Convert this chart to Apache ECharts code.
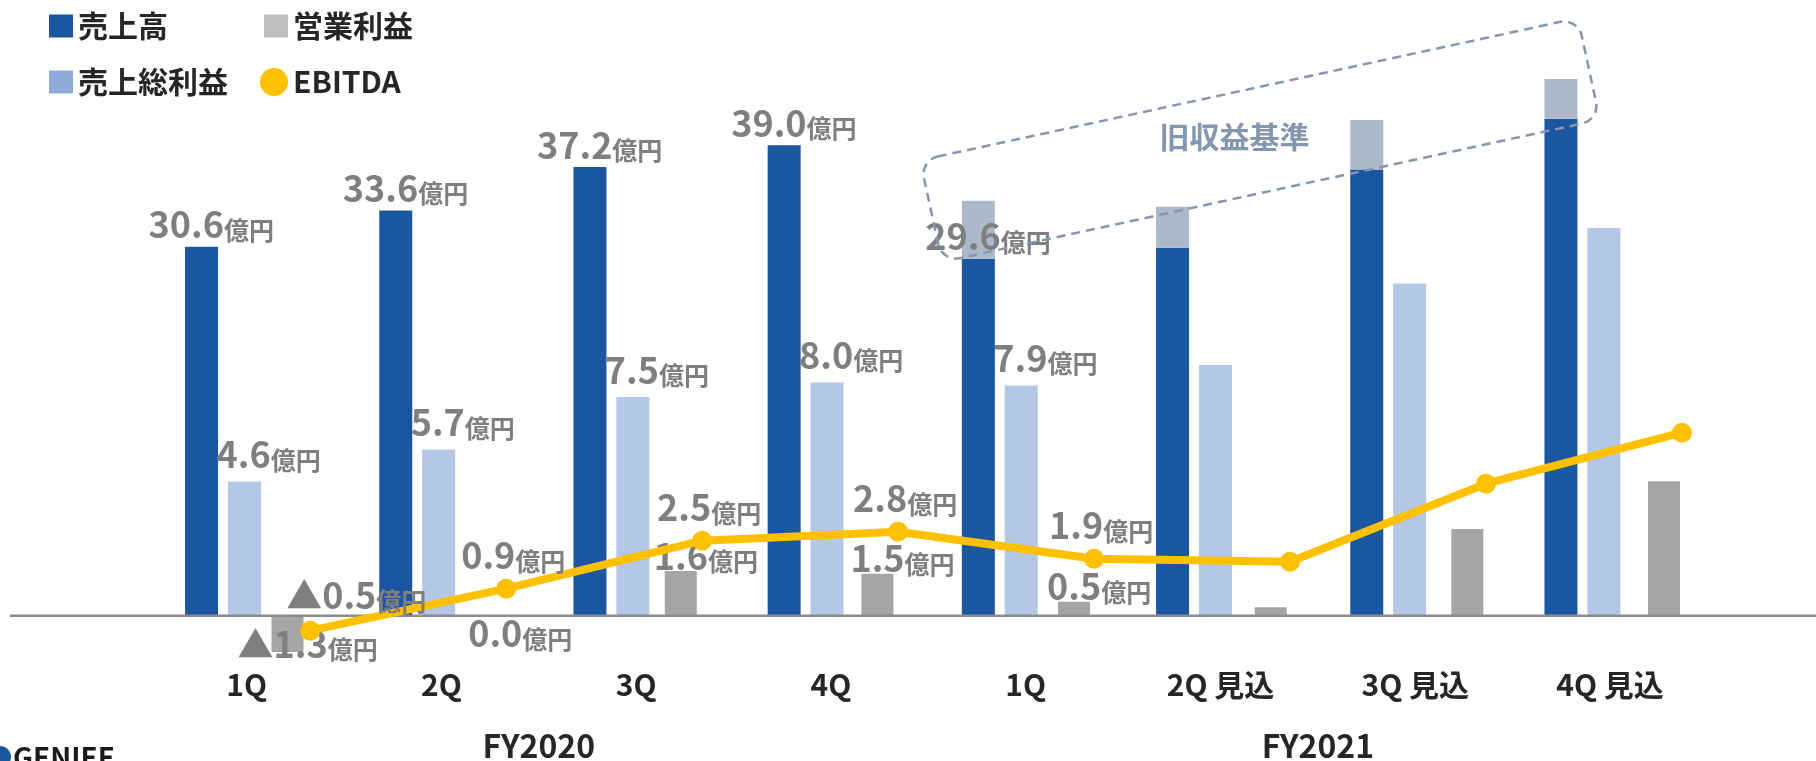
<!DOCTYPE html>
<html lang="ja">
<head>
<meta charset="utf-8">
<title>業績推移</title>
<script src="https://cdn.jsdelivr.net/npm/echarts@6/dist/echarts.min.js"></script>
<style>
  html, body { margin: 0; padding: 0; background: #ffffff; }
  #chart { width: 1816px; height: 761px; }
</style>
</head>
<body>
<div id="chart"></div>
<script>
// Quarterly results and forecasts (単位: 億円)
const quarters = ['1Q', '2Q', '3Q', '4Q', '1Q', '2Q 見込', '3Q 見込', '4Q 見込'];
const fiscalYears = ['FY2020', 'FY2021'];
const quartersPerYear = 4;
const sales = [30.6, 33.6, 37.2, 39.0, 29.6, 30.5, 37.0, 41.2];
const salesOldBasis = [null, null, null, null, 34.4, 33.9, 41.1, 44.5];
const grossProfit = [4.6, 5.7, 7.5, 8.0, 7.9, 8.6, 11.4, 13.3];
const operatingProfit = [-1.3, 0.0, 1.6, 1.5, 0.5, 0.3, 3.1, 4.8];
const ebitda = [-0.5, 0.9, 2.5, 2.8, 1.9, 1.8, 4.4, 6.1];
const actualCount = 5; // reported quarters carry value labels
const oldBasisLabel = '旧収益基準';

const FONT = '"Noto Sans CJK JP", "Noto Sans", sans-serif';
const LABEL_GRAY = '#7F7F7F';
const TEXT_DARK = '#262626';
const COLORS = {
  sales: '#1B57A0', gross: '#B4C7E7', grossKey: '#8FAADC',
  op: '#A5A5A5', opKey: '#BFBFBF', ebitda: '#FFC000', old: '#ACB9CA', note: '#8497B0'
};

// Every value axis shares the same pixel frame; zero sits 10% above the bottom.
const GRID_TOP = 73, GRID_H = 603, ZERO_FRAC = 0.1;
function valueRange(pxPerUnit) {
  const span = GRID_H / pxPerUnit;
  return { min: -span * ZERO_FRAC, max: span * (1 - ZERO_FRAC) };
}

function valueText(v) {
  return (v < 0 ? '▲' : '') + Math.abs(v).toFixed(1);
}
const labelRich = {
  n: { fontFamily: FONT, fontSize: 36, fontWeight: 'bold', color: LABEL_GRAY, verticalAlign: 'bottom', lineHeight: 40 },
  u: { fontFamily: FONT, fontSize: 25, fontWeight: 'bold', color: LABEL_GRAY, verticalAlign: 'bottom', lineHeight: 40 }
};
function labelFormatter(p) {
  return '{n|' + valueText(p.value) + '}{u|億円}';
}
function baseLabel(offset, extra) {
  return Object.assign({
    show: true, position: 'top', align: 'left', distance: 0,
    offset: offset, formatter: labelFormatter, rich: labelRich
  }, extra || {});
}

const gridBox = (left, right, height) => ({
  left: left, right: right, top: GRID_TOP, height: height || GRID_H, containLabel: false
});
const hiddenCategory = (gridIndex) => ({
  type: 'category', gridIndex: gridIndex, data: quarters, show: false
});
const hiddenValue = (gridIndex, r) => ({
  type: 'value', gridIndex: gridIndex, min: r.min, max: r.max, show: false, splitLine: { show: false }
});

const salesRange = valueRange(12.06);
const grossRange = valueRange(29.15);
const opRange = valueRange(28);
const ebitdaRange = valueRange(30);

const legendText = { fontFamily: FONT, fontSize: 30, fontWeight: 'bold', color: TEXT_DARK };

const option = {
  backgroundColor: '#ffffff',
  animation: false,
  textStyle: { fontFamily: FONT },
  legend: [
    { data: [{ name: '売上高', itemStyle: { color: COLORS.sales } }], left: 44, top: 6,
      icon: 'rect', itemWidth: 24, itemHeight: 23, itemGap: 0, textStyle: legendText },
    { data: [{ name: '営業利益', itemStyle: { color: COLORS.opKey } }], left: 259, top: 6,
      icon: 'rect', itemWidth: 24, itemHeight: 23, itemGap: 0, textStyle: legendText },
    { data: [{ name: '売上総利益', itemStyle: { color: COLORS.grossKey } }], left: 44, top: 62,
      icon: 'rect', itemWidth: 24, itemHeight: 23, itemGap: 0, textStyle: legendText },
    { data: [{ name: 'EBITDA', itemStyle: { color: COLORS.ebitda } }], left: 255, top: 62,
      icon: 'circle', itemWidth: 28, itemHeight: 28, itemGap: 0, textStyle: legendText }
  ],
  grid: [
    gridBox(125.9, 136.5),  // 売上高 / 売上総利益
    gridBox(189.2, 53.7),   // 営業利益
    gridBox(212.2, 36.1),   // EBITDA
    gridBox(149.3, 108.6, GRID_H * (1 - ZERO_FRAC))   // quarter labels, axis on the zero line
  ],
  xAxis: [
    hiddenCategory(0),
    hiddenCategory(1),
    hiddenCategory(2),
    {
      type: 'category', gridIndex: 3, data: quarters,
      axisLine: { show: false }, axisTick: { show: false }, splitLine: { show: false },
      axisLabel: { interval: 0, margin: 54, fontFamily: FONT, fontSize: 30, fontWeight: 'bold', color: TEXT_DARK }
    }
  ],
  yAxis: [
    hiddenValue(0, salesRange),
    hiddenValue(0, grossRange),
    hiddenValue(1, opRange),
    hiddenValue(2, ebitdaRange),
    hiddenValue(3, { min: 0, max: 1 })
  ],
  series: [
    {
      name: '売上高', type: 'bar', xAxisIndex: 0, yAxisIndex: 0, stack: 'sales',
      barWidth: 33, barGap: '30%',
      itemStyle: { color: COLORS.sales },
      label: baseLabel([-53, -4]),
      data: sales.map((v, i) => ({ value: v, label: { show: i < actualCount } }))
    },
    {
      name: oldBasisLabel, type: 'bar', xAxisIndex: 0, yAxisIndex: 0, stack: 'sales',
      barWidth: 33,
      itemStyle: { color: COLORS.old },
      data: salesOldBasis.map((v, i) => v == null ? null : +(v - sales[i]).toFixed(1))
    },
    {
      name: '売上総利益', type: 'bar', xAxisIndex: 0, yAxisIndex: 1,
      barWidth: 33,
      itemStyle: { color: COLORS.gross },
      label: baseLabel([-28, -9]),
      data: grossProfit.map((v, i) => ({ value: v, label: { show: i < actualCount } }))
    },
    {
      name: '営業利益', type: 'bar', xAxisIndex: 1, yAxisIndex: 2,
      barWidth: 32,
      itemStyle: { color: COLORS.op },
      label: baseLabel([-27, 3]),
      data: operatingProfit.map((v, i) => {
        const item = { value: v, label: { show: i < actualCount } };
        if (v < 0) Object.assign(item.label, { position: 'bottom', offset: [-50, -30] });
        else if (v === 0) Object.assign(item.label, { position: 'bottom', offset: [-16, -4] });
        return item;
      })
    },
    {
      name: 'EBITDA', type: 'line', xAxisIndex: 2, yAxisIndex: 3, z: 4,
      symbol: 'circle', symbolSize: 20,
      lineStyle: { color: COLORS.ebitda, width: 8 },
      itemStyle: { color: COLORS.ebitda },
      label: baseLabel([-45, -5]),
      data: ebitda.map((v, i) => {
        const item = { value: v, label: { show: i < actualCount } };
        if (v < 0) item.label.offset = [-24, -7];
        return item;
      })
    }
  ]
};

const chart = echarts.init(document.getElementById('chart'), null, { renderer: 'canvas' });
chart.setOption(option);

// Decorations that follow the axes: baseline, fiscal-year captions, old-basis callout
const zeroY = chart.convertToPixel({ yAxisIndex: 0 }, 0);
const yearCaptions = fiscalYears.map((fy, g) => {
  const first = chart.convertToPixel({ xAxisIndex: 3 }, g * quartersPerYear);
  const last = chart.convertToPixel({ xAxisIndex: 3 }, g * quartersPerYear + quartersPerYear - 1);
  return {
    type: 'text', z: 5, x: (first + last) / 2, y: 746,
    style: { text: fy, fill: TEXT_DARK, font: 'bold 32px ' + FONT, align: 'center', verticalAlign: 'middle' }
  };
});

chart.setOption({
  graphic: [
    { type: 'line', z: 3, shape: { x1: 10, y1: zeroY, x2: 1816, y2: zeroY },
      style: { stroke: '#8C8C8C', lineWidth: 2.5 } },
    ...yearCaptions,
    { type: 'rect', z: 5, x: 1260, y: 140, rotation: 0.213,
      shape: { x: -336.5, y: -52, width: 673, height: 104, r: 18 },
      style: { fill: 'none', stroke: COLORS.note, lineWidth: 2.5, lineDash: [9, 6] } },
    { type: 'text', z: 5, x: 1234.5, y: 137,
      style: { text: oldBasisLabel, fill: COLORS.note, font: 'bold 30px ' + FONT, align: 'center', verticalAlign: 'middle' } },
    { type: 'circle', z: 5, shape: { cx: 0, cy: 757, r: 11 }, style: { fill: COLORS.sales } },
    { type: 'text', z: 5, x: 13, y: 743,
      style: { text: 'GENIEE', fill: '#1A1A1A', font: 'bold 28px ' + FONT, align: 'left', verticalAlign: 'top' } }
  ]
});
</script>
</body>
</html>
